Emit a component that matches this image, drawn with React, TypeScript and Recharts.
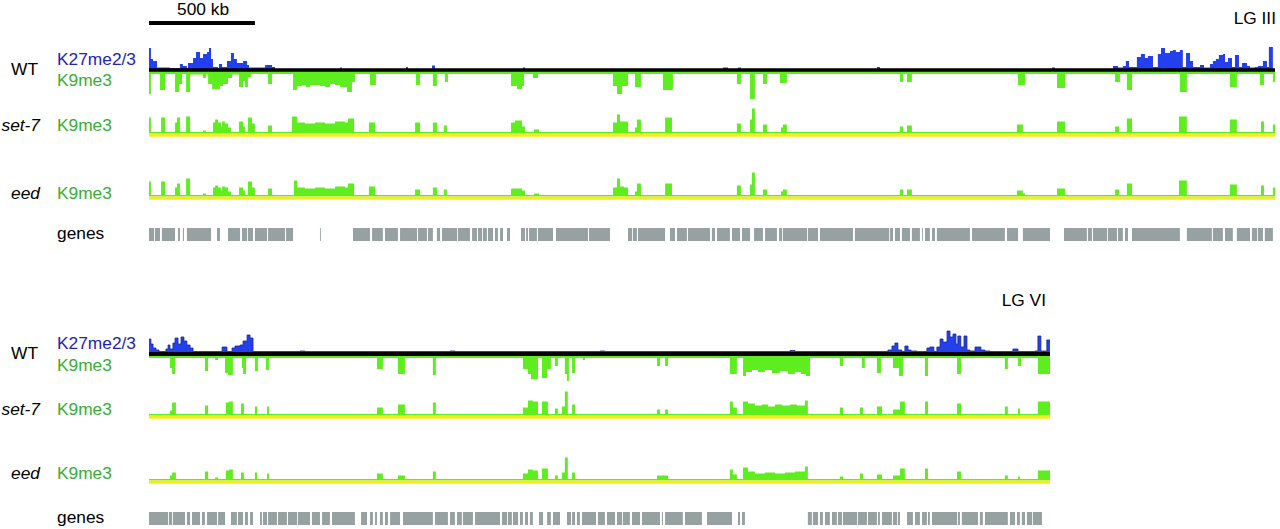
import React from 'react';
import { AreaChart, Area, XAxis, YAxis, ReferenceLine, ReferenceArea } from 'recharts';

type Pt = [number, number];
type Iv = [number, number];

// chromosome lengths (kb) and scale bar
const LG3_LENGTH_KB = 5315;
const LG6_LENGTH_KB = 4253;
const SCALE_BAR_KB = 500;
const SCALE_BAR_LABEL = '500 kb';

// ---------- LG III : step profiles [start kb, signal] ----------
const lg3WtK27: Pt[] = [
  [0, 22], [9, 11], [19, 9], [38, 2.5], [99, 2], [146, 6], [160, 4], [179, 2], [184, 7], [208, 12], [222, 18],
  [241, 12], [255, 16], [274, 18], [283, 22], [293, 11], [302, 3], [326, 2], [330, 6], [345, 3], [368, 9],
  [387, 17], [401, 11], [415, 7], [444, 9], [463, 5], [472, 2.5], [548, 5], [581, 3], [595, 0.6], [902, 2.5],
  [911, 0.6], [1213, 3], [1222, 0.6], [1336, 4.5], [1350, 0.6], [1765, 2.5], [1775, 0.6], [2709, 2.5],
  [2733, 0.6], [2780, 2.5], [2794, 0.6], [3436, 3], [3450, 0.6], [4262, 2.5], [4276, 0.6], [4550, 4],
  [4574, 2.5], [4597, 4], [4611, 9], [4626, 3], [4663, 13], [4682, 16], [4701, 12], [4715, 14], [4739, 3],
  [4762, 16], [4777, 22], [4796, 17], [4819, 19], [4833, 20], [4847, 18], [4866, 20], [4880, 3], [4895, 17],
  [4914, 9], [4928, 3], [4961, 5], [4980, 2.5], [5008, 6], [5022, 9], [5036, 11], [5050, 15], [5069, 16],
  [5079, 8], [5093, 12], [5112, 3], [5126, 15], [5145, 3], [5159, 7], [5183, 4], [5197, 2.5], [5220, 3],
  [5234, 4], [5258, 9], [5277, 3], [5286, 23], [5305, 0.6],
];
const lg3WtK9: Pt[] = [
  [0, 24], [9, 4], [52, 20], [76, 4], [123, 22], [142, 14], [156, 4], [175, 22], [194, 4.5], [255, 8],
  [269, 4.5], [279, 14], [298, 19], [335, 16], [349, 14], [373, 8], [392, 4.5], [425, 17], [444, 11],
  [453, 17], [467, 7], [481, 4], [562, 14], [581, 4], [680, 20], [699, 16], [722, 15], [741, 17], [760, 15],
  [779, 15], [807, 16], [831, 17], [854, 14], [878, 15], [902, 17], [935, 22], [958, 12], [972, 4],
  [1043, 15], [1071, 4], [1260, 15], [1279, 4], [1340, 16], [1359, 4], [1397, 12], [1411, 4], [1709, 16],
  [1737, 19], [1761, 16], [1770, 4], [1812, 8], [1836, 4], [2190, 16], [2209, 24], [2233, 16], [2261, 4],
  [2294, 17], [2322, 4], [2426, 20], [2473, 4], [2775, 14], [2794, 4], [2837, 29], [2860, 4], [2898, 14],
  [2917, 4], [2978, 13], [3011, 4], [3545, 12], [3559, 4], [3578, 12], [3601, 4], [4102, 15], [4135, 4],
  [4286, 18], [4324, 4], [4560, 12], [4583, 4], [4616, 20], [4640, 4], [4866, 22], [4899, 4], [5102, 17],
  [5135, 4], [5244, 15], [5263, 4], [5305, 12],
];
const lg3Set7K9: Pt[] = [
  [0, 16], [9, 1.5], [57, 16], [76, 1.5], [123, 11], [132, 16], [146, 1.5], [175, 17], [194, 1.5], [255, 3],
  [269, 1.5], [302, 11], [312, 14], [326, 11], [340, 7], [345, 12], [359, 10], [373, 6], [387, 1.5],
  [425, 12], [444, 7], [453, 1.5], [467, 16], [486, 10], [500, 1.5], [562, 8], [581, 1.5], [675, 17],
  [699, 11], [736, 10], [784, 11], [831, 10], [878, 12], [925, 11], [939, 15], [968, 1.5], [1038, 11],
  [1067, 1.5], [1256, 11], [1279, 1.5], [1340, 11], [1359, 1.5], [1392, 8], [1406, 1.5], [1709, 11],
  [1728, 13], [1761, 7], [1775, 1.5], [1817, 4], [1841, 1.5], [2190, 11], [2209, 19], [2223, 12],
  [2261, 1.5], [2294, 6], [2303, 14], [2322, 1.5], [2436, 16], [2469, 1.5], [2775, 10], [2794, 1.5],
  [2837, 14], [2846, 25], [2860, 1.5], [2898, 9], [2917, 1.5], [2983, 6], [2992, 9], [3011, 1.5],
  [3545, 7], [3559, 1.5], [3578, 8], [3601, 1.5], [4097, 9], [4125, 1.5], [4286, 12], [4324, 1.5],
  [4560, 7], [4579, 1.5], [4616, 15], [4640, 1.5], [4862, 17], [4899, 1.5], [5102, 14], [5135, 1.5],
  [5249, 12], [5263, 1.5], [5305, 9],
];
const lg3EedK9: Pt[] = [
  [0, 15], [9, 1.5], [57, 15], [76, 1.5], [123, 9], [132, 13], [146, 1.5], [175, 18], [194, 1.5], [255, 3],
  [269, 1.5], [302, 9], [312, 11], [326, 9], [340, 6], [345, 10], [359, 9], [373, 5], [387, 1.5], [425, 9],
  [444, 6], [453, 1.5], [467, 15], [486, 9], [500, 1.5], [562, 8], [581, 1.5], [684, 16], [699, 9],
  [736, 8], [784, 9], [831, 8], [878, 10], [925, 9], [939, 13], [968, 1.5], [1038, 10], [1067, 1.5],
  [1256, 7], [1279, 1.5], [1340, 9], [1359, 1.5], [1392, 7], [1406, 1.5], [1709, 8], [1728, 8], [1761, 6],
  [1775, 1.5], [1817, 3], [1841, 1.5], [2190, 9], [2209, 18], [2223, 10], [2242, 9], [2261, 1.5],
  [2294, 5], [2303, 13], [2322, 1.5], [2436, 13], [2469, 1.5], [2775, 11], [2794, 1.5], [2837, 12],
  [2846, 24], [2860, 1.5], [2898, 7], [2917, 1.5], [2983, 5], [2992, 7], [3011, 1.5], [3545, 7],
  [3559, 1.5], [3578, 7], [3601, 1.5], [4097, 6], [4125, 3], [4135, 1.5], [4286, 8], [4324, 1.5],
  [4560, 7], [4579, 1.5], [4616, 13], [4640, 1.5], [4862, 16], [4899, 1.5], [5102, 12], [5135, 1.5],
  [5249, 11], [5263, 1.5], [5305, 9],
];
const lg3Genes: Iv[] = [
  [0, 24], [28, 52], [61, 123], [137, 146], [160, 165], [179, 293], [321, 335], [373, 430], [439, 463],
  [467, 491], [500, 557], [562, 642], [647, 680], [807, 811], [963, 1043], [1053, 1104], [1114, 1175],
  [1185, 1265], [1270, 1312], [1317, 1340], [1359, 1374], [1383, 1454], [1458, 1515], [1525, 1548],
  [1553, 1572], [1576, 1595], [1600, 1624], [1633, 1647], [1657, 1671], [1690, 1704], [1756, 1775],
  [1780, 1789], [1794, 1831], [1836, 1907], [1921, 2072], [2077, 2176], [2261, 2280], [2284, 2303],
  [2308, 2436], [2459, 2483], [2492, 2539], [2544, 2648], [2657, 2672], [2681, 2742], [2752, 2790],
  [2799, 2837], [2856, 2898], [2908, 2964], [2974, 2988], [2992, 3106], [3110, 3158], [3167, 3323],
  [3332, 3494], [3498, 3512], [3521, 3545], [3554, 3592], [3601, 3639], [3649, 3653], [3663, 3686],
  [3696, 3710], [3719, 3875], [3885, 4040], [4050, 4102], [4125, 4253], [4319, 4427], [4432, 4451],
  [4456, 4522], [4526, 4569], [4574, 4597], [4607, 4621], [4640, 4866], [4899, 5017], [5022, 5069],
  [5079, 5116], [5135, 5197], [5206, 5230], [5234, 5258], [5267, 5305],
];

// ---------- LG VI ----------
const lg6WtK27: Pt[] = [
  [0, 15], [9, 10], [19, 6], [33, 4], [47, 2.5], [80, 5], [90, 9], [99, 5], [113, 11], [123, 16], [137, 10],
  [151, 17], [165, 13], [179, 9], [194, 6], [208, 2.5], [345, 7], [368, 2.5], [392, 6], [406, 8], [430, 9],
  [444, 13], [463, 19], [477, 16], [491, 2.5], [713, 3], [736, 2.5], [1421, 3], [1444, 2.5], [2129, 3],
  [2152, 2.5], [3026, 3.5], [3049, 2.5], [3488, 4], [3507, 8], [3521, 11], [3535, 4], [3554, 2.5], [3568, 8],
  [3583, 4], [3597, 3], [3625, 2.5], [3672, 6], [3686, 7], [3705, 2.5], [3719, 7], [3734, 15], [3748, 12],
  [3767, 23], [3781, 17], [3795, 20], [3809, 10], [3818, 18], [3832, 7], [3847, 18], [3861, 4], [3875, 3],
  [3899, 7], [3913, 7], [3927, 4], [3946, 3], [3970, 2.5], [4078, 5], [4102, 2.5], [4182, 3], [4196, 18],
  [4210, 3], [4238, 14],
];
const lg6WtK9: Pt[] = [
  [0, 4], [99, 14], [109, 20], [123, 4], [264, 17], [279, 4], [312, 6], [326, 4], [359, 19], [373, 21],
  [396, 4], [439, 14], [444, 20], [458, 4], [500, 17], [514, 4], [552, 16], [566, 4], [1076, 15], [1104, 4],
  [1175, 20], [1208, 4], [1340, 21], [1354, 4], [1765, 15], [1789, 20], [1803, 25], [1836, 4], [1855, 24],
  [1879, 15], [1897, 4], [1916, 12], [1930, 4], [1963, 20], [1973, 27], [1982, 4], [1997, 19], [2011, 4],
  [2048, 6], [2058, 4], [2398, 12], [2412, 4], [2436, 12], [2450, 4], [2742, 20], [2775, 4], [2804, 22],
  [2818, 18], [2846, 16], [2874, 18], [2907, 16], [2940, 19], [2978, 17], [3016, 20], [3049, 18], [3077, 20],
  [3101, 22], [3120, 4], [3261, 12], [3276, 4], [3365, 14], [3379, 4], [3436, 19], [3455, 4], [3512, 14],
  [3540, 22], [3559, 4], [3663, 22], [3677, 4], [3814, 20], [3833, 4], [4040, 15], [4054, 4], [4102, 12],
  [4116, 4], [4196, 20],
];
const lg6Set7K9: Pt[] = [
  [0, 1.5], [99, 5], [109, 13], [127, 1.5], [264, 10], [279, 1.5], [363, 13], [378, 14], [396, 1.5],
  [434, 12], [448, 1.5], [500, 9], [510, 1.5], [557, 9], [566, 1.5], [1076, 8], [1104, 1.5], [1175, 11],
  [1208, 1.5], [1340, 13], [1354, 1.5], [1765, 8], [1789, 15], [1812, 14], [1836, 1.5], [1855, 14],
  [1883, 1.5], [1916, 7], [1930, 1.5], [1949, 9], [1963, 24], [1977, 1.5], [1997, 11], [2011, 1.5],
  [2398, 6], [2412, 1.5], [2436, 6], [2450, 1.5], [2742, 14], [2756, 8], [2775, 1.5], [2804, 14], [2827, 12],
  [2860, 10], [2893, 11], [2922, 9], [2955, 11], [2988, 10], [3026, 11], [3058, 10], [3096, 15], [3110, 1.5],
  [3261, 8], [3276, 1.5], [3356, 8], [3370, 1.5], [3436, 9], [3460, 1.5], [3512, 6], [3545, 14], [3568, 1.5],
  [3663, 14], [3677, 1.5], [3814, 12], [3833, 1.5], [4040, 9], [4054, 1.5], [4102, 7], [4111, 1.5],
  [4196, 14],
];
const lg6EedK9: Pt[] = [
  [0, 1.5], [99, 5], [109, 8], [127, 1.5], [264, 9], [279, 1.5], [312, 3], [326, 1.5], [363, 10], [378, 11],
  [396, 1.5], [434, 8], [448, 1.5], [500, 8], [510, 1.5], [557, 7], [566, 1.5], [1076, 7], [1104, 1.5],
  [1175, 5], [1208, 1.5], [1340, 9], [1354, 1.5], [1765, 7], [1789, 11], [1812, 10], [1836, 1.5],
  [1855, 12], [1883, 1.5], [1916, 5], [1930, 1.5], [1949, 8], [1963, 23], [1977, 1.5], [1997, 8],
  [2011, 1.5], [2398, 5], [2450, 1.5], [2742, 11], [2756, 6], [2775, 1.5], [2804, 13], [2827, 9], [2860, 7],
  [2907, 8], [2955, 7], [3002, 8], [3049, 9], [3096, 14], [3110, 1.5], [3261, 4], [3276, 1.5], [3356, 7],
  [3370, 1.5], [3436, 6], [3460, 1.5], [3512, 5], [3545, 12], [3568, 1.5], [3663, 12], [3677, 1.5],
  [3814, 9], [3833, 1.5], [4040, 5], [4054, 1.5], [4102, 4], [4111, 1.5], [4196, 10],
];
const lg6Genes: Iv[] = [
  [0, 90], [94, 109], [113, 170], [179, 194], [203, 241], [250, 264], [274, 321], [326, 359], [387, 415],
  [420, 444], [453, 467], [477, 491], [524, 533], [538, 557], [562, 604], [609, 651], [656, 699], [703, 760],
  [769, 807], [817, 854], [864, 972], [1001, 1029], [1043, 1057], [1067, 1076], [1090, 1104], [1114, 1128],
  [1138, 1185], [1199, 1340], [1350, 1411], [1421, 1444], [1454, 1477], [1482, 1529], [1539, 1657],
  [1666, 1690], [1694, 1713], [1718, 1742], [1751, 1765], [1775, 1789], [1798, 1812], [1841, 1860],
  [1879, 1897], [1907, 1940], [1973, 1992], [1997, 2011], [2020, 2034], [2044, 2110], [2119, 2152],
  [2162, 2200], [2209, 2233], [2237, 2270], [2280, 2318], [2327, 2412], [2421, 2426], [2436, 2520],
  [2530, 2610], [2634, 2752], [2780, 2790], [2799, 2813], [3110, 3129], [3134, 3158], [3167, 3181],
  [3191, 3214], [3224, 3247], [3252, 3271], [3276, 3342], [3346, 3389], [3394, 3436], [3441, 3450],
  [3460, 3507], [3512, 3531], [3535, 3545], [3578, 3606], [3616, 3639], [3649, 3672], [3677, 3686],
  [3696, 3814], [3818, 3828], [3837, 3913], [3922, 3936], [3946, 4054], [4064, 4088], [4097, 4111],
  [4120, 4135], [4144, 4168], [4172, 4215],
];

// ---------- text labels ----------
const sampleLabels = ['WT', 'set-7', 'eed'];
const markLabels = ['K27me2/3', 'K9me3', 'genes'];
const chromLabels = ['LG III', 'LG VI'];

// ---------- styling / layout ----------
const BLUE = '#2340ee';
const GREEN = '#5eee1f';
const YELLOW = '#f6ec1c';
const GENE_GRAY = '#98a1a1';
const TEXT_BLUE = '#2424b4';
const TEXT_GREEN = '#3aae34';
const FONT = 'Arial, "Liberation Sans", Helvetica, sans-serif';
const TRACK_LEFT = 149;
const PX_PER_KB = 1126 / LG3_LENGTH_KB;

function toSeries(points: Pt[], end: number, sign = 1) {
  const d = points.map(([x, v]) => ({ x, v: v * sign }));
  d.push({ x: end, v: points[points.length - 1][1] * sign });
  return d;
}
function geneSeries(iv: Iv[], end: number) {
  const d: { x: number; v: number }[] = [{ x: 0, v: 0 }];
  iv.forEach(([s, e]) => {
    d.push({ x: s, v: 1 });
    d.push({ x: e, v: 0 });
  });
  d.push({ x: end, v: 0 });
  return d;
}

type TrackProps = {
  data: { x: number; v: number }[];
  end: number;
  top: number;
  height: number;
  yDomain: [number, number];
  fill: string;
  stroke?: string;
  children?: React.ReactNode;
};
function Track({ data, end, top, height, yDomain, fill, stroke, children }: TrackProps) {
  const width = Math.round(end * PX_PER_KB);
  return (
    <div style={{ position: 'absolute', left: TRACK_LEFT, top }}>
      <AreaChart width={width} height={height} data={data} margin={{ top: 0, right: 0, bottom: 0, left: 0 }}>
        <XAxis type="number" dataKey="x" domain={[0, end]} hide allowDataOverflow />
        <YAxis type="number" domain={yDomain} hide allowDataOverflow />
        <Area
          type="stepAfter"
          dataKey="v"
          fill={fill}
          fillOpacity={1}
          stroke={stroke ?? 'none'}
          strokeWidth={stroke ? 0.8 : 0}
          baseValue={0}
          dot={false}
          activeDot={false}
          isAnimationActive={false}
        />
        {children}
      </AreaChart>
    </div>
  );
}

type PanelProps = {
  length: number;
  k27: Pt[];
  k9wt: Pt[];
  set7: Pt[];
  eed: Pt[];
  genes: Iv[];
  wtZero: number;
  set7Zero: number;
  eedZero: number;
  genesTop: number;
  genesH: number;
  lineW: number;
  blueStroke?: string;
};
function Panel(p: PanelProps) {
  const upDom: [number, number] = [-3.6, 30.4];
  return (
    <>
      <Track data={toSeries(p.k27, p.length)} end={p.length} top={p.wtZero - 31} height={64} yDomain={[-33, 31]} fill={BLUE} stroke={p.blueStroke} />
      <Track data={toSeries(p.k9wt, p.length, -1)} end={p.length} top={p.wtZero - 31} height={64} yDomain={[-33, 31]} fill={GREEN}>
        <ReferenceLine y={0} stroke="#000" strokeWidth={p.lineW} />
      </Track>
      <Track data={toSeries(p.set7, p.length)} end={p.length} top={p.set7Zero - 30.4} height={34} yDomain={upDom} fill={GREEN}>
        <ReferenceArea y1={-3.4} y2={0} fill={YELLOW} fillOpacity={1} stroke="none" />
      </Track>
      <Track data={toSeries(p.eed, p.length)} end={p.length} top={p.eedZero - 30.4} height={34} yDomain={upDom} fill={GREEN}>
        <ReferenceArea y1={-3.4} y2={0} fill={YELLOW} fillOpacity={1} stroke="none" />
      </Track>
      <Track data={geneSeries(p.genes, p.length)} end={p.length} top={p.genesTop} height={p.genesH} yDomain={[0, 1]} fill={GENE_GRAY} />
    </>
  );
}

function T({ x, y, text, color = '#000', anchor = 'start', italic = false }: { x: number; y: number; text: string; color?: string; anchor?: 'start' | 'end' | 'middle'; italic?: boolean }) {
  return (
    <text
      transform={`translate(${x},${y}) scale(1.02,1)`}
      textAnchor={anchor}
      fill={color}
      fontFamily={FONT}
      fontSize={17}
      fontStyle={italic ? 'italic' : 'normal'}
    >
      {text}
    </text>
  );
}

function RowLabels({ wtBase, k27Base, k9Base, set7Base, eedBase, genesBase }: { wtBase: number; k27Base: number; k9Base: number; set7Base: number; eedBase: number; genesBase: number }) {
  return (
    <>
      <T x={38} y={wtBase} text={sampleLabels[0]} anchor="end" />
      <T x={57} y={k27Base} text={markLabels[0]} color={TEXT_BLUE} />
      <T x={57} y={k9Base} text={markLabels[1]} color={TEXT_GREEN} />
      <T x={40} y={set7Base} text={sampleLabels[1]} anchor="end" italic />
      <T x={57} y={set7Base} text={markLabels[1]} color={TEXT_GREEN} />
      <T x={40} y={eedBase} text={sampleLabels[2]} anchor="end" italic />
      <T x={57} y={eedBase} text={markLabels[1]} color={TEXT_GREEN} />
      <T x={57} y={genesBase} text={markLabels[2]} />
    </>
  );
}

export default function App() {
  return (
    <div style={{ position: 'absolute', left: 0, top: 0, width: 1280, height: 529, background: '#fff', overflow: 'hidden' }}>
      {/* scale bar */}
      <div style={{ position: 'absolute', left: TRACK_LEFT, top: 13 }}>
        <AreaChart width={1126} height={16} data={[{ x: 0, v: 0 }, { x: LG3_LENGTH_KB, v: 0 }]} margin={{ top: 0, right: 0, bottom: 0, left: 0 }}>
          <XAxis type="number" dataKey="x" domain={[0, LG3_LENGTH_KB]} hide />
          <YAxis type="number" domain={[0, 16]} hide />
          <Area dataKey="v" stroke="none" fill="none" isAnimationActive={false} />
          <ReferenceLine segment={[{ x: 0, y: 6 }, { x: SCALE_BAR_KB, y: 6 }]} stroke="#000" strokeWidth={4} />
        </AreaChart>
      </div>
      <Panel length={LG3_LENGTH_KB} k27={lg3WtK27} k9wt={lg3WtK9} set7={lg3Set7K9} eed={lg3EedK9} genes={lg3Genes}
        wtZero={70} set7Zero={133.3} eedZero={196.7} genesTop={228} genesH={13} lineW={3.4} />
      <Panel length={LG6_LENGTH_KB} k27={lg6WtK27} k9wt={lg6WtK9} set7={lg6Set7K9} eed={lg6EedK9} genes={lg6Genes}
        wtZero={353.8} set7Zero={415} eedZero={480} genesTop={512} genesH={13} lineW={4} blueStroke="#1d2790" />
      <svg width={1280} height={529} style={{ position: 'absolute', left: 0, top: 0, pointerEvents: 'none' }}>
        <T x={203} y={15} text={SCALE_BAR_LABEL} anchor="middle" />
        <T x={1276} y={24} text={chromLabels[0]} anchor="end" />
        <T x={1046} y={306} text={chromLabels[1]} anchor="end" />
        <RowLabels wtBase={75} k27Base={64.5} k9Base={86} set7Base={130.5} eedBase={198.5} genesBase={238.5} />
        <RowLabels wtBase={359} k27Base={348.5} k9Base={370.5} set7Base={415} eedBase={478.5} genesBase={523} />
      </svg>
    </div>
  );
}
